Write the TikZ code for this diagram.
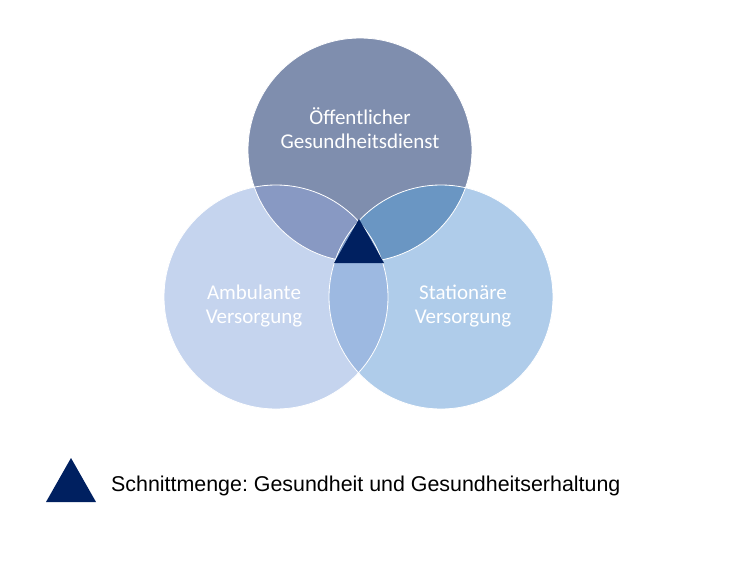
\documentclass[tikz,border=0pt]{standalone}
\usepackage{fontspec}
\setmainfont{Carlito}
\newfontfamily\legendfont{Liberation Sans}
\definecolor{oegdfill}{HTML}{7F8EAE}
\definecolor{ambfill}{HTML}{C5D4EE}
\definecolor{statfill}{HTML}{AFCCEA}
\definecolor{oegdamb}{HTML}{8899C3}
\definecolor{oegdstat}{HTML}{6A96C3}
\definecolor{ambstat}{HTML}{9DB9E1}
\definecolor{allthree}{HTML}{7E9CC8}
\definecolor{navy}{HTML}{002060}
\frenchspacing

\begin{document}
\begin{tikzpicture}[x=1pt,y=-1pt,
	ring/.style={circle,inner sep=0,outer sep=0,minimum size=224pt},
	rim/.style={draw=white,line width=0.8pt},
	ringtext/.style={text=white,align=center,font=\fontsize{21}{24}\selectfont}]
	\useasboundingbox (0,0) rectangle (736,576);
	\node[ring,fill=oegdfill] (oegd) at (360,150) {};
	\node[ring,fill=ambfill] (amb) at (276,297) {};
	\node[ring,fill=statfill] (stat) at (441,297) {};
	\begin{scope}
		\clip (oegd.center) circle[radius=112pt];
		\fill[oegdamb] (amb.center) circle[radius=112pt];
		\fill[oegdstat] (stat.center) circle[radius=112pt];
	\end{scope}
	\begin{scope}
		\clip (amb.center) circle[radius=112pt];
		\fill[ambstat] (stat.center) circle[radius=112pt];
		\clip (stat.center) circle[radius=112pt];
		\fill[allthree] (oegd.center) circle[radius=112pt];
	\end{scope}
	\draw[rim] (oegd.center) circle[radius=112pt];
	\draw[rim] (amb.center) circle[radius=112pt];
	\draw[rim] (stat.center) circle[radius=112pt];
	\coordinate (apex) at (359,219);
	\coordinate (baseleft) at (334,263);
	\coordinate (baseright) at (384,263);
	\fill[navy] (apex) -- (baseleft) -- (baseright) -- cycle;
	\node[ringtext] (oegdtext) at (360,128) {Öffentlicher\\Gesundheitsdienst};
	\node[ringtext] (ambtext) at (254,306) {Ambulante\\Versorgung};
	\node[ringtext] (stattext) at (463,306) {Stationäre\\Versorgung};
	\coordinate (keyleft) at (46,502);
	\coordinate (keytop) at (71,458);
	\coordinate (keyright) at (96,502);
	\fill[navy] (keyleft) -- (keytop) -- (keyright) -- cycle;
	\node[anchor=base west,inner sep=0,font=\legendfont\fontsize{21.4}{24}\selectfont] (keytext) at (111,491) {Schnittmenge: Gesundheit und Gesundheitserhaltung};
\end{tikzpicture}
\end{document}
